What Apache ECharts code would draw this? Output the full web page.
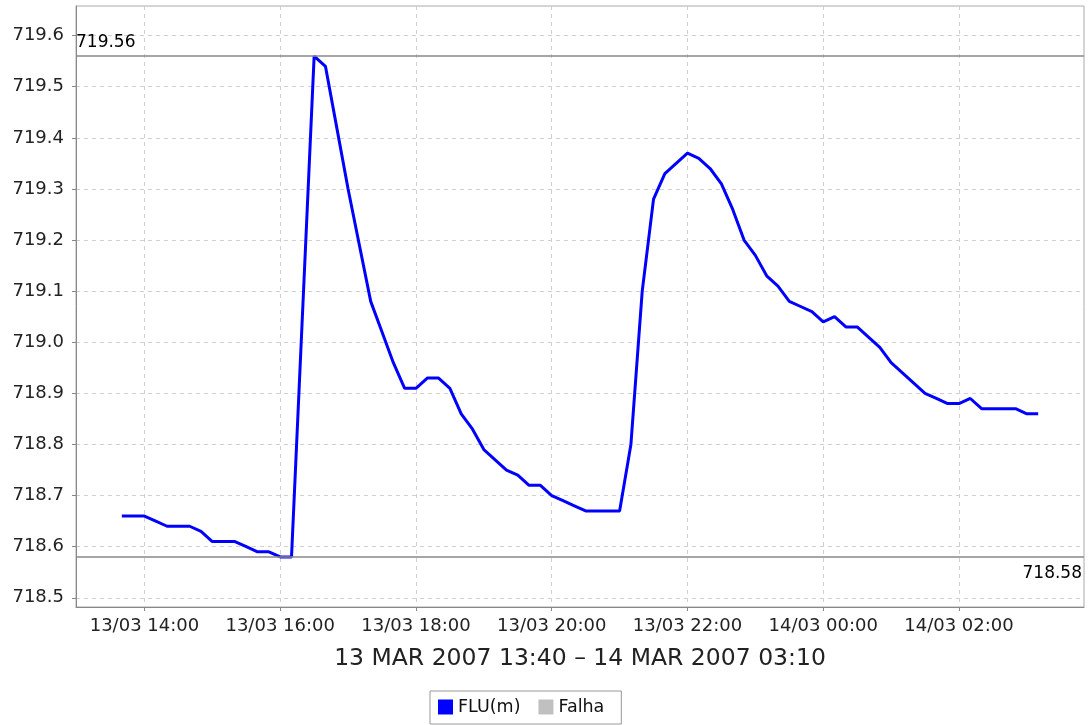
<!DOCTYPE html>
<html><head><meta charset="utf-8">
<script src="https://cdn.jsdelivr.net/npm/echarts@6/dist/echarts.min.js"></script>
<style>html,body{margin:0;padding:0;background:#fff}#c{width:1090px;height:725px}</style>
</head><body><div id="c"></div>
<script>
const times = [
 '13/03 13:40','13/03 13:50','13/03 14:00','13/03 14:10','13/03 14:20','13/03 14:30','13/03 14:40','13/03 14:50',
 '13/03 15:00','13/03 15:10','13/03 15:20','13/03 15:30','13/03 15:40','13/03 15:50','13/03 16:00','13/03 16:10',
 '13/03 16:20','13/03 16:30','13/03 16:40','13/03 16:50','13/03 17:00','13/03 17:10','13/03 17:20','13/03 17:30',
 '13/03 17:40','13/03 17:50','13/03 18:00','13/03 18:10','13/03 18:20','13/03 18:30','13/03 18:40','13/03 18:50',
 '13/03 19:00','13/03 19:10','13/03 19:20','13/03 19:30','13/03 19:40','13/03 19:50','13/03 20:00','13/03 20:10',
 '13/03 20:20','13/03 20:30','13/03 20:40','13/03 20:50','13/03 21:00','13/03 21:10','13/03 21:20','13/03 21:30',
 '13/03 21:40','13/03 21:50','13/03 22:00','13/03 22:10','13/03 22:20','13/03 22:30','13/03 22:40','13/03 22:50',
 '13/03 23:00','13/03 23:10','13/03 23:20','13/03 23:30','13/03 23:40','13/03 23:50','14/03 00:00','14/03 00:10',
 '14/03 00:20','14/03 00:30','14/03 00:40','14/03 00:50','14/03 01:00','14/03 01:10','14/03 01:20','14/03 01:30',
 '14/03 01:40','14/03 01:50','14/03 02:00','14/03 02:10','14/03 02:20','14/03 02:30','14/03 02:40','14/03 02:50',
 '14/03 03:00','14/03 03:10'
];
const fluValues = [
 718.66,718.66,718.66,718.65,718.64,718.64,718.64,718.63,718.61,718.61,718.61,718.60,718.59,718.59,718.58,718.58,
 719.07,719.56,719.54,719.42,719.30,719.19,719.08,719.02,718.96,718.91,718.91,718.93,718.93,
 718.91,718.86,718.83,718.79,718.77,718.75,718.74,718.72,718.72,718.70,718.69,718.68,718.67,718.67,718.67,718.67,
 718.80,719.10,719.28,719.33,719.35,719.37,719.36,719.34,719.31,719.26,719.20,719.17,719.13,719.11,719.08,719.07,
 719.06,719.04,719.05,719.03,719.03,719.01,718.99,718.96,718.94,718.92,718.90,718.89,718.88,718.88,718.89,718.87,
 718.87,718.87,718.87,718.86,718.86
];
const markerValues = [719.56, 718.58];
const xTickHours = [14, 16, 18, 20, 22, 24, 26];
const yTicks = [718.5, 718.6, 718.7, 718.8, 718.9, 719.0, 719.1, 719.2, 719.3, 719.4, 719.5, 719.6];
const axisTitle = '13 MAR 2007 13:40 \u2013 14 MAR 2007 03:10';
const seriesNames = ['FLU(m)', 'Falha'];

const FONT = 'DejaVu Sans';
function toHours(s) {
  const d = parseInt(s.slice(0, 2), 10), h = parseInt(s.slice(6, 8), 10), m = parseInt(s.slice(9, 11), 10);
  return (d - 13) * 24 + h + m / 60;
}
function fmtHour(v) {
  const d = 13 + Math.floor(v / 24);
  const h = Math.round(v) % 24;
  return d + '/03 ' + String(h).padStart(2, '0') + ':00';
}
const xs = times.map(toHours);
const points = xs.map((x, i) => [x, fluValues[i]]);
const xRange = xs[xs.length - 1] - xs[0];
const yMinV = Math.min(...fluValues), yMaxV = Math.max(...fluValues);
const yRange = yMaxV - yMinV;

const chart = echarts.init(document.getElementById('c'), null, {renderer: 'canvas'});
chart.setOption({
  animation: false,
  backgroundColor: '#fff',
  textStyle: {fontFamily: FONT},
  grid: {left: 76, right: 6, top: 6, bottom: 118, show: true, borderColor: '#aaa', borderWidth: 1, containLabel: false},
  legend: {
    data: seriesNames, left: 430, top: 691, padding: [7, 17, 8, 8],
    borderColor: '#999', borderWidth: 1, itemWidth: 15, itemHeight: 15, itemGap: 18,
    icon: 'rect', textStyle: {fontSize: 17.5, color: '#111', fontFamily: FONT}
  },
  xAxis: {
    type: 'value',
    min: xs[0] - 0.05 * xRange,
    max: xs[xs.length - 1] + 0.05 * xRange,
    name: axisTitle, nameLocation: 'middle', nameGap: 40,
    nameTextStyle: {fontSize: 23.5, color: '#222', fontFamily: FONT},
    axisLine: {lineStyle: {color: '#888', width: 1}},
    axisTick: {show: true, length: 4, customValues: xTickHours, lineStyle: {color: '#888'}},
    axisLabel: {customValues: xTickHours, formatter: fmtHour, fontSize: 18, color: '#222', margin: 10, fontFamily: FONT},
    splitLine: {show: true, lineStyle: {color: '#d0d0d0', type: [4, 4], width: 1}}
  },
  yAxis: {
    type: 'value',
    min: yMinV - 0.1 * yRange,
    max: yMaxV + 0.1 * yRange,
    axisLine: {show: true, lineStyle: {color: '#888', width: 1}},
    axisTick: {show: true, length: 4, customValues: yTicks, lineStyle: {color: '#888'}},
    axisLabel: {customValues: yTicks, formatter: v => v.toFixed(1), fontSize: 18, color: '#222', margin: 12, fontFamily: FONT},
    splitLine: {show: true, lineStyle: {color: '#d0d0d0', type: [4, 4], width: 1}}
  },
  series: [
    {
      name: seriesNames[0], type: 'line', data: points, symbol: 'none',
      lineStyle: {color: '#0000ff', width: 3}, itemStyle: {color: '#0000ff'},
      markLine: {
        silent: true, symbol: 'none',
        lineStyle: {color: '#888', type: 'solid', width: 1.5},
        data: [
          {yAxis: markerValues[0], label: {show: true, position: 'insideStartTop', formatter: markerValues[0].toFixed(2), color: '#000', fontSize: 17, fontFamily: FONT, distance: [0, 5]}},
          {yAxis: markerValues[1], label: {show: true, position: 'insideEndBottom', formatter: markerValues[1].toFixed(2), color: '#000', fontSize: 17, fontFamily: FONT, distance: [2, 8]}}
        ]
      }
    },
    {
      name: seriesNames[1], type: 'line', data: [], symbol: 'none',
      lineStyle: {color: '#c0c0c0'}, itemStyle: {color: '#c0c0c0'}
    }
  ]
});
</script>
</body></html>
